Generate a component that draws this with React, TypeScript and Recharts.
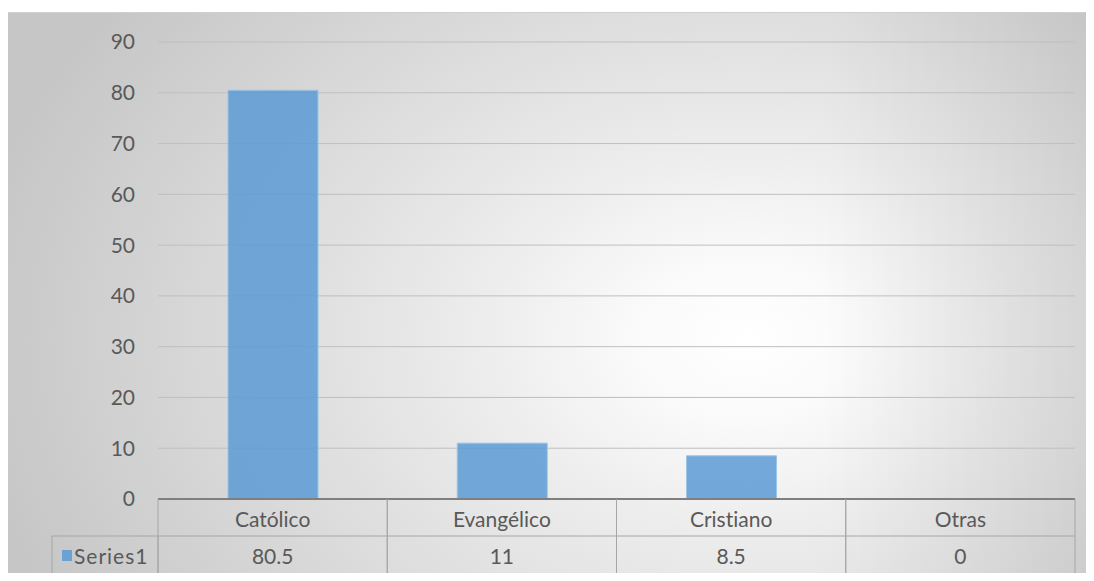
import { BarChart, Bar, XAxis, YAxis, CartesianGrid } from "recharts";

const CATEGORIES = ["Católico", "Evangélico", "Cristiano", "Otras"];
const VALUES = [80.5, 11, 8.5, 0];
const SERIES_NAME = "Series1";
const Y_TICKS = [0, 10, 20, 30, 40, 50, 60, 70, 80, 90];

const data = CATEGORIES.map((name, i) => ({ name, value: VALUES[i] }));

const W = 1087;
const H = 565;
const MARGIN = { top: 30, right: 19, bottom: 2, left: 0 };
const Y_WIDTH = 151;
const CAT_W = (W - MARGIN.left - MARGIN.right - Y_WIDTH) / CATEGORIES.length;
const ROW1 = 37;
const ROW2 = 38;
const TEXT = "#595959";
const LINE = "#A6A6A6";
const BLUE = "#5B9BD5";
const FS = 21;

function TableTick(props: any) {
  const { x, y, payload } = props;
  const i = payload.index;
  const left = x - CAT_W / 2;
  const right = x + CAT_W / 2;
  const legendLeft = 45;
  return (
    <g>
      {/* category row + value row */}
      <line x1={left} y1={y} x2={left} y2={y + ROW1 + ROW2} stroke={LINE} />
      <line x1={right} y1={y} x2={right} y2={y + ROW1 + ROW2} stroke={LINE} />
      <line x1={left} y1={y + ROW1} x2={right} y2={y + ROW1} stroke={LINE} />
      <line x1={left} y1={y + ROW1 + ROW2} x2={right} y2={y + ROW1 + ROW2} stroke={LINE} />
      <text x={x} y={y + ROW1 / 2 + 1} textAnchor="middle" dominantBaseline="central" fill={TEXT} fontSize={FS}>
        {payload.value}
      </text>
      <text x={x} y={y + ROW1 + ROW2 / 2} textAnchor="middle" dominantBaseline="central" fill={TEXT} fontSize={FS}>
        {VALUES[i]}
      </text>
      {i === 0 && (
        <g>
          <rect x={legendLeft} y={y + ROW1} width={left - legendLeft} height={ROW2} fill="none" stroke={LINE} />
          <rect x={55} y={y + ROW1 + 14} width={10} height={11} fill={BLUE} fillOpacity={0.85} />
          <text x={67} y={y + ROW1 + ROW2 / 2} dominantBaseline="central" fill={TEXT} fontSize={FS} letterSpacing={1}>
            {SERIES_NAME}
          </text>
        </g>
      )}
    </g>
  );
}

export default function App() {
  return (
    <div
      style={{
        position: "relative",
        top: 4,
        left: -1,
        width: W,
        height: H,
        fontFamily: "Lato, 'Open Sans', sans-serif",
        fontVariantLigatures: "none",
        background:
          "linear-gradient(to right, rgba(0,0,0,0) 75%, rgba(0,0,0,0.08) 100%), radial-gradient(ellipse 72% 100% at 68% 58%, #ffffff 0%, #fafafa 14%, #ececec 35%, #dcdcdc 62%, #cdcdcd 88%, #c6c6c6 100%)",
        boxShadow: "inset 0 0 0 1px #cfcfcf",
      }}
    >
      <BarChart width={W} height={H} data={data} margin={MARGIN} barSize={90}>
        <CartesianGrid vertical={false} stroke="#BFBFBF" />
        <XAxis
          dataKey="name"
          height={76}
          interval={0}
          tickSize={0}
          tickMargin={0}
          axisLine={{ stroke: "#7F7F7F", strokeWidth: 2 }}
          tick={<TableTick />}
        />
        <YAxis
          width={Y_WIDTH}
          domain={[0, 90]}
          ticks={Y_TICKS}
          axisLine={false}
          tickLine={false}
          tickMargin={17}
          tick={{ fill: TEXT, fontSize: FS }}
        />
        <Bar
          dataKey="value"
          fill={BLUE}
          fillOpacity={0.85}
          stroke="#9DC3E6"
          strokeWidth={1}
          isAnimationActive={false}
        />
      </BarChart>
    </div>
  );
}
